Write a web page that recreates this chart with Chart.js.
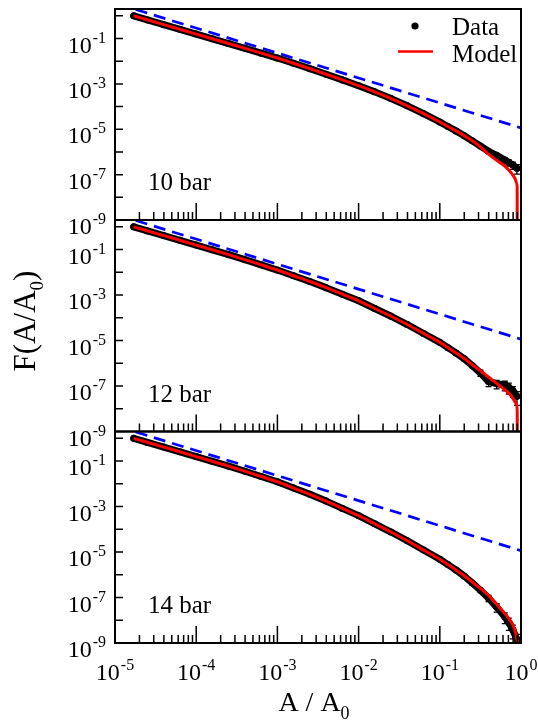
<!DOCTYPE html>
<html>
<head>
<meta charset="utf-8">
<title>F(A/A0)</title>
<script src="https://cdn.jsdelivr.net/npm/chart.js@4/dist/chart.umd.min.js"></script>
<style>
  html, body { margin: 0; padding: 0; background: #ffffff; }
  #wrap { position: relative; width: 538px; height: 725px; overflow: hidden; background: #ffffff; }
  #wrap canvas { position: absolute; left: 0; top: 0; }
</style>
</head>
<body>
<div id="wrap">
  <canvas id="panel10" width="538" height="725"></canvas>
  <canvas id="panel12" width="538" height="725"></canvas>
  <canvas id="panel14" width="538" height="725"></canvas>
</div>
<script>
// ---- measured cumulative distributions F(A/A0) ----
const dataX = [1.70e-5, 2.51e-5, 3.98e-5, 6.31e-5, 1.00e-4, 1.58e-4, 2.51e-4, 3.98e-4, 6.31e-4, 1.00e-3,
  1.58e-3, 2.51e-3, 3.98e-3, 6.31e-3, 1.00e-2, 1.58e-2, 2.51e-2, 3.98e-2, 6.31e-2, 0.100,
  0.126, 0.158, 0.200, 0.251, 0.316, 0.398, 0.501, 0.631, 0.708, 0.794, 0.891];

const data10 = [1.00, 0.659, 0.408, 0.253, 0.157, 9.70e-2, 6.01e-2, 3.70e-2, 2.26e-2, 1.38e-2,
  8.09e-3, 4.68e-3, 2.67e-3, 1.50e-3, 8.32e-4, 4.45e-4, 2.25e-4, 1.08e-4, 4.88e-5, 2.09e-5,
  1.33e-5, 8.47e-6, 5.20e-6, 3.08e-6, 1.82e-6, 1.07e-6, 7.08e-7, 4.37e-7, 3.39e-7, 2.63e-7, 1.91e-7];
const data12 = [1.00, 0.662, 0.413, 0.256, 0.158, 9.72e-2, 5.97e-2, 3.60e-2, 2.13e-2, 1.26e-2,
  7.05e-3, 3.94e-3, 2.12e-3, 1.09e-3, 5.62e-4, 2.57e-4, 1.17e-4, 5.06e-5, 2.05e-5, 8.32e-6,
  4.88e-6, 2.86e-6, 1.58e-6, 7.94e-7, 3.80e-7, 1.58e-7, 1.26e-7, 1.12e-7, 8.91e-8, 6.31e-8, 3.55e-8];
const data14 = [1.00, 0.662, 0.413, 0.256, 0.158, 9.72e-2, 5.97e-2, 3.58e-2, 2.10e-2, 1.23e-2,
  6.52e-3, 3.45e-3, 1.74e-3, 8.32e-4, 3.98e-4, 1.74e-4, 7.59e-5, 3.13e-5, 1.22e-5, 4.79e-6,
  2.81e-6, 1.64e-6, 8.71e-7, 4.37e-7, 2.09e-7, 9.55e-8, 3.80e-8, 1.41e-8, 7.94e-9, 3.80e-9, 1.41e-9];

// relative statistical errors (sigma / F), non-zero only in the sparse tail
const err10 = [0,0,0,0,0,0,0,0,0,0, 0,0,0,0,0,0,0,0,0,0, 0,0,0,0,0,0, 0.20, 0.25, 0.30, 0.35, 0.45];
const err12 = [0,0,0,0,0,0,0,0,0,0, 0,0,0,0,0,0,0,0,0,0, 0,0,0,0, 0.30, 0.40, 0.40, 0.45, 0.50, 0.50, 0.60];
const err14 = [0,0,0,0,0,0,0,0,0,0, 0,0,0,0,0,0,0,0,0,0, 0,0,0,0,0, 0.30, 0.40, 0.50, 0.55, 0.60, 0.70];

// ---- model curves ----
const modelX10 = [1.70e-5, 3.98e-5, 1.00e-4, 2.51e-4, 6.31e-4, 1.00e-3, 1.58e-3, 2.51e-3, 3.98e-3, 6.31e-3,
  1.00e-2, 1.58e-2, 2.51e-2, 3.98e-2, 6.31e-2, 0.100, 0.126, 0.158, 0.200, 0.251,
  0.316, 0.398, 0.501, 0.631, 0.708, 0.794, 0.851, 0.881, 0.897, 0.902];
const model10 = [1.00, 0.408, 0.157, 6.01e-2, 2.26e-2, 1.38e-2, 8.09e-3, 4.68e-3, 2.67e-3, 1.50e-3,
  8.32e-4, 4.45e-4, 2.25e-4, 1.08e-4, 4.88e-5, 2.09e-5, 1.33e-5, 8.47e-6, 5.20e-6, 3.09e-6,
  1.66e-6, 7.94e-7, 4.27e-7, 2.40e-7, 1.58e-7, 9.55e-8, 6.31e-8, 4.37e-8, 2.82e-8, 1e-12];

const modelX12 = [1.70e-5, 3.98e-5, 1.00e-4, 2.51e-4, 6.31e-4, 1.00e-3, 1.58e-3, 2.51e-3, 3.98e-3, 6.31e-3,
  1.00e-2, 1.58e-2, 2.51e-2, 3.98e-2, 6.31e-2, 0.100, 0.126, 0.158, 0.200, 0.251,
  0.316, 0.398, 0.501, 0.631, 0.708, 0.794, 0.851, 0.885, 0.899, 0.902];
const model12 = [1.00, 0.413, 0.158, 5.97e-2, 2.13e-2, 1.26e-2, 7.05e-3, 3.94e-3, 2.12e-3, 1.09e-3,
  5.62e-4, 2.57e-4, 1.17e-4, 5.06e-5, 2.05e-5, 8.32e-6, 4.88e-6, 2.86e-6, 1.61e-6, 8.67e-7,
  4.68e-7, 2.48e-7, 1.31e-7, 6.82e-8, 4.86e-8, 2.88e-8, 1.91e-8, 1.51e-8, 7.08e-9, 1e-13];

const modelX14 = [1.70e-5, 3.98e-5, 1.00e-4, 2.51e-4, 6.31e-4, 1.00e-3, 1.58e-3, 2.51e-3, 3.98e-3, 6.31e-3,
  1.00e-2, 1.58e-2, 2.51e-2, 3.98e-2, 6.31e-2, 0.100, 0.126, 0.158, 0.200, 0.251,
  0.316, 0.398, 0.501, 0.631, 0.708, 0.794, 0.851, 0.891, 0.912, 0.933];
const model14 = [1.00, 0.413, 0.158, 5.97e-2, 2.10e-2, 1.23e-2, 6.52e-3, 3.45e-3, 1.74e-3, 8.32e-4,
  3.98e-4, 1.74e-4, 7.59e-5, 3.13e-5, 1.22e-5, 4.79e-6, 2.81e-6, 1.64e-6, 9.12e-7, 4.79e-7,
  2.51e-7, 1.23e-7, 5.01e-8, 2.00e-8, 1.17e-8, 6.31e-9, 3.16e-9, 1.41e-9, 5.01e-10, 1e-11];

// ---- reference power law (same in every panel) ----
const powerX = [1.8e-5, 1.0];
const powerY = [1.9, 1.15e-5];

// ---- axes and labels ----
const xLimits = [1e-5, 1];
const yLimits = [1e-9, 2];
const yLabelExps = [-1, -3, -5, -7, -9];
const yTickExps = [-8, -7, -6, -5, -4, -3, -2, -1, 0];
const xDecades = [-5, -4, -3, -2, -1, 0];
const panelNames = ['10 bar', '12 bar', '14 bar'];
const legendNames = ['Data', 'Model'];

// ---- page geometry ----
const W = 538, H = 725;
const PLOT_L = 115, PLOT_R = 521;
const panelBox = [ { top: 9, bottom: 220 }, { top: 220, bottom: 431.5 }, { top: 431.5, bottom: 643 } ];
const SERIF = '"Liberation Serif", "Times New Roman", Times, serif';

function pairs(xs, ys) { return xs.map((x, i) => ({ x: x, y: ys[i] })); }

// "10" with a raised exponent; anchor is the right edge or the centre
function drawPower(ctx, exp, x, base, align) {
  ctx.font = '24px ' + SERIF;
  const wb = ctx.measureText('10').width;
  ctx.font = '16px ' + SERIF;
  const es = String(exp);
  const we = ctx.measureText(es).width;
  const total = wb + 1 + we;
  const left = align === 'right' ? x - total : x - total / 2;
  ctx.textAlign = 'left';
  ctx.textBaseline = 'alphabetic';
  ctx.font = '24px ' + SERIF;
  ctx.fillText('10', left, base);
  ctx.font = '16px ' + SERIF;
  ctx.fillText(es, left + wb + 1, base - 10);
}

const panelDeco = {
  id: 'panelDeco',
  afterDatasetDraw(chart, args, opts) {
    if (args.index !== 1) return;
    const errs = opts.errors;
    const xs = chart.scales.x, ys = chart.scales.y;
    const ctx = chart.ctx;
    const area = chart.chartArea;
    ctx.save();
    ctx.beginPath();
    ctx.rect(area.left, area.top, area.right - area.left, area.bottom - area.top);
    ctx.clip();
    ctx.strokeStyle = '#000';
    ctx.lineWidth = 1.3;
    dataX.forEach((xv, i) => {
      const e = errs[i];
      if (!e) return;
      const yv = opts.values[i];
      const px = xs.getPixelForValue(xv);
      const y1 = ys.getPixelForValue(yv * (1 + e));
      const y2 = ys.getPixelForValue(yv * (1 - e));
      ctx.beginPath();
      ctx.moveTo(px, y1); ctx.lineTo(px, y2);
      ctx.moveTo(px - 3, y1); ctx.lineTo(px + 3, y1);
      ctx.moveTo(px - 3, y2); ctx.lineTo(px + 3, y2);
      ctx.stroke();
    });
    ctx.restore();
  },
  afterDraw(chart, args, opts) {
    const ctx = chart.ctx;
    const a = chart.chartArea;
    const xs = chart.scales.x, ys = chart.scales.y;
    ctx.save();
    ctx.strokeStyle = '#000';
    ctx.fillStyle = '#000';

    // frame
    ctx.lineWidth = 2;
    ctx.strokeRect(a.left, a.top, a.right - a.left, a.bottom - a.top);

    // inward ticks on the left axis (decades)
    ctx.lineWidth = 1.5;
    ctx.beginPath();
    yTickExps.forEach(e => {
      const py = ys.getPixelForValue(Math.pow(10, e));
      ctx.moveTo(a.left, py); ctx.lineTo(a.left + 8, py);
    });
    // inward ticks on the bottom axis (decades long, 2..9 short)
    xDecades.forEach(d => {
      const px = xs.getPixelForValue(Math.pow(10, d));
      ctx.moveTo(px, a.bottom); ctx.lineTo(px, a.bottom - 17);
      if (d < 0) {
        for (let k = 2; k <= 9; k++) {
          const pm = xs.getPixelForValue(k * Math.pow(10, d));
          ctx.moveTo(pm, a.bottom); ctx.lineTo(pm, a.bottom - 8);
        }
      }
    });
    ctx.stroke();

    // left tick labels
    yLabelExps.forEach(e => {
      const py = ys.getPixelForValue(Math.pow(10, e));
      drawPower(ctx, e, 106, py + 14, 'right');
    });

    // panel name
    ctx.font = '25px ' + SERIF;
    ctx.textAlign = 'left';
    ctx.textBaseline = 'alphabetic';
    ctx.fillText(opts.name, 148, a.bottom - 30);

    if (opts.legend) {
      ctx.beginPath();
      ctx.arc(415, 26, 3.6, 0, Math.PI * 2);
      ctx.fill();
      ctx.strokeStyle = '#ff0000';
      ctx.lineWidth = 2.6;
      ctx.beginPath();
      ctx.moveTo(398, 51.5); ctx.lineTo(433, 51.5);
      ctx.stroke();
      ctx.font = '25px ' + SERIF;
      ctx.fillText(legendNames[0], 452, 35);
      ctx.fillText(legendNames[1], 452, 61.5);
    }

    if (opts.bottom) {
      // bottom tick labels
      xDecades.forEach(d => {
        const px = xs.getPixelForValue(Math.pow(10, d));
        drawPower(ctx, d, px, a.bottom + 37, 'center');
      });
      // horizontal title: A / A0
      ctx.textAlign = 'left';
      ctx.font = '28px ' + SERIF;
      const main = 'A / A';
      const wm = ctx.measureText(main).width;
      ctx.font = '18px ' + SERIF;
      const ws = ctx.measureText('0').width;
      const x0 = 314 - (wm + ws) / 2;
      ctx.font = '28px ' + SERIF;
      ctx.fillText(main, x0, 711);
      ctx.font = '18px ' + SERIF;
      ctx.fillText('0', x0 + wm, 719);

      // vertical title: F(A/A0)
      ctx.save();
      ctx.translate(35, 321);
      ctx.rotate(-Math.PI / 2);
      ctx.font = '31px ' + SERIF;
      const p1 = 'F(A/A', p3 = ')';
      const w1 = ctx.measureText(p1).width;
      const w3 = ctx.measureText(p3).width;
      ctx.font = '19px ' + SERIF;
      const w2 = ctx.measureText('0').width;
      let cx = -(w1 + w2 + w3) / 2;
      ctx.font = '31px ' + SERIF;
      ctx.fillText(p1, cx, 0);
      cx += w1;
      ctx.font = '19px ' + SERIF;
      ctx.fillText('0', cx, 8);
      cx += w2;
      ctx.font = '31px ' + SERIF;
      ctx.fillText(p3, cx, 0);
      ctx.restore();
    }
    ctx.restore();
  }
};

const panels = [
  { id: 'panel10', modelX: modelX10, modelY: model10, dataY: data10, err: err10 },
  { id: 'panel12', modelX: modelX12, modelY: model12, dataY: data12, err: err12 },
  { id: 'panel14', modelX: modelX14, modelY: model14, dataY: data14, err: err14 }
];

panels.forEach((p, i) => {
  const box = panelBox[i];
  new Chart(document.getElementById(p.id), {
    type: 'scatter',
    data: {
      datasets: [
        { label: legendNames[1], data: pairs(p.modelX, p.modelY), showLine: true,
          borderColor: '#ff0000', borderWidth: 3, pointRadius: 0,
          cubicInterpolationMode: 'monotone', clip: 0, order: 0 },
        { label: legendNames[0], data: pairs(dataX, p.dataY), showLine: true,
          borderColor: '#000000', backgroundColor: '#000000', borderWidth: 7,
          borderCapStyle: 'round', borderJoinStyle: 'round',
          pointRadius: 3.5, pointBorderWidth: 0, clip: 0, order: 1 },
        { label: 'power law', data: pairs(powerX, powerY), showLine: true,
          borderColor: '#0000ff', borderWidth: 2.7, borderDash: [12, 7],
          pointRadius: 0, clip: 0, order: 2 }
      ]
    },
    options: {
      responsive: false,
      animation: false,
      devicePixelRatio: 1,
      events: [],
      layout: { padding: { left: PLOT_L, right: W - PLOT_R, top: box.top, bottom: H - box.bottom } },
      scales: {
        x: { type: 'logarithmic', min: xLimits[0], max: xLimits[1], display: false },
        y: { type: 'logarithmic', min: yLimits[0], max: yLimits[1], display: false }
      },
      plugins: {
        legend: { display: false },
        tooltip: { enabled: false },
        panelDeco: { name: panelNames[i], legend: i === 0, bottom: i === 2,
                     errors: p.err, values: p.dataY }
      }
    },
    plugins: [panelDeco]
  });
});
</script>
</body>
</html>
